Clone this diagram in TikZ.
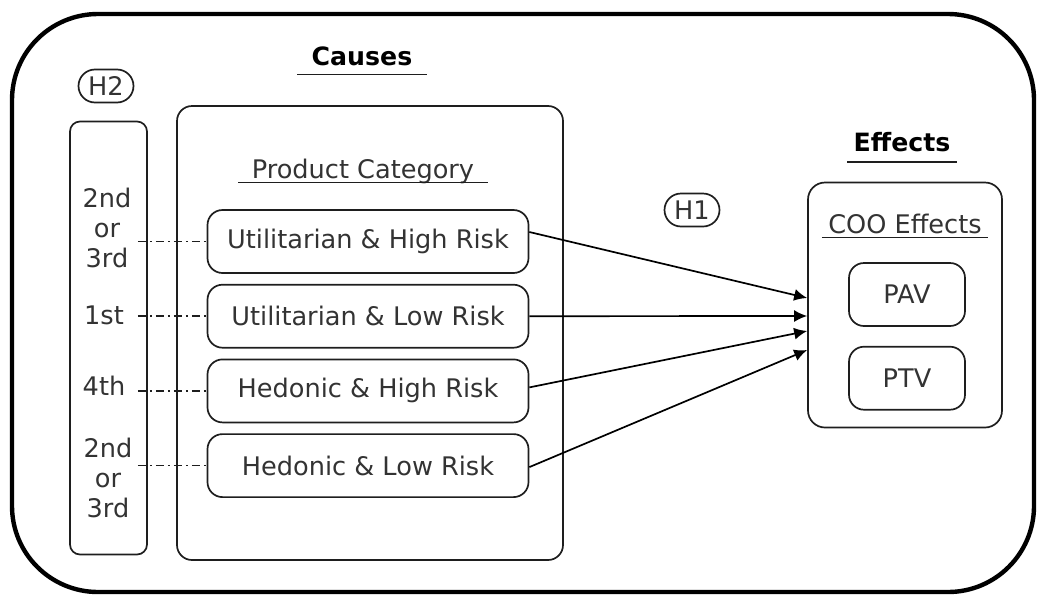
\documentclass[tikz,border=0pt]{standalone}
\usepackage{fontspec}
\setmainfont{DejaVu Sans}
\usetikzlibrary{positioning,shapes.misc,arrows.meta}
\definecolor{InkGray}{RGB}{51,51,51}
\definecolor{LineGray}{RGB}{30,30,30}

\begin{document}
\begin{tikzpicture}[x=0.5pt,y=-0.5pt,>={Latex[length=6.5pt,width=6pt]},
    font=\fontsize{12.8}{15}\selectfont,
    box/.style={draw=LineGray,line width=0.85pt,rounded corners=7.5pt,text=InkGray},
    cat/.style={box,minimum width=160.5pt,minimum height=31.5pt,inner sep=0pt},
    pill/.style={draw=LineGray,line width=0.85pt,rounded rectangle,minimum width=29.5pt,
                 minimum height=16.5pt,inner sep=1pt,text=InkGray},
    hd/.style={font=\fontsize{12.6}{15}\selectfont\bfseries,text=black,anchor=base},
    sub/.style={text=InkGray,anchor=base},
    rk/.style={text=InkGray,align=center,inner sep=0pt},
    ul/.style={draw=LineGray,line width=0.85pt},
    dl/.style={draw=LineGray,line width=0.75pt,dash pattern=on 4pt off 2pt on 1pt off 2pt},
    ar/.style={->,draw=black,line width=0.85pt}]
  \useasboundingbox (0,0) rectangle (1037,595);
  % outer frame
  \draw[line width=2.2pt,rounded corners=43pt] (12,14) rectangle (1034,592);
  % causes side
  \node[hd,inner xsep=7pt] (causes) at (362,65) {Causes};
  \node[pill] (h2) at (106,86) {H2};
  \node[box,rounded corners=5pt,minimum width=38.5pt,minimum height=216.5pt] (rank) at (108.5,338) {};
  \node[box,minimum width=193pt,minimum height=227pt] (cbox) at (370,333) {};
  \node[sub,inner xsep=6.5pt] (pcat) at (363,178) {Product Category};
  \node[cat] (u1) at (368,241.5) {Utilitarian \& High Risk};
  \node[cat,below=5pt of u1] (u2) {Utilitarian \& Low Risk};
  \node[cat,below=5pt of u2] (u3) {Hedonic \& High Risk};
  \node[cat,below=5pt of u3] (u4) {Hedonic \& Low Risk};
  \node[rk] (r1) at (107,228) {2nd\\or\\3rd};
  \node[rk] (r2) at (104,315) {1st};
  \node[rk] (r3) at (104,386) {4th};
  \node[rk] (r4) at (108,478) {2nd\\or\\3rd};
  \foreach \u in {u1,u2,u3,u4}
    \draw[dl] ([xshift=-5pt]rank.east |- \u.west) -- (\u.west);
  % effects side
  \node[hd,inner xsep=3pt] (effects) at (902,151) {Effects};
  \node[pill] (h1) at (692,210) {H1};
  \node[box,rounded corners=8.5pt,minimum width=97pt,minimum height=122.5pt] (eff) at (905,305) {};
  \node[sub,inner xsep=3pt] (coo) at (905,233) {COO Effects};
  \node[box,minimum width=58pt,minimum height=31.5pt] (pav) at (907,294.5) {PAV};
  \node[box,below=9.5pt of pav,minimum width=58pt,minimum height=31.5pt] (ptv) {PTV};
  % underlines
  \foreach \n/\d in {causes/4.8,effects/5.5,pcat/2.3,coo/2.3}
    \draw[ul] ([yshift=-\d pt]\n.base west) -- ([yshift=-\d pt]\n.base east);
  % H1 arrows
  \foreach \s/\a/\b in {u1/4.75/3.5,u2/0/-5.5,u3/1.75/-13,u4/-0.75/-22.5}
    \draw[ar] ([yshift=\a pt]\s.east) -- ([yshift=\b pt]eff.west);
\end{tikzpicture}
\end{document}
